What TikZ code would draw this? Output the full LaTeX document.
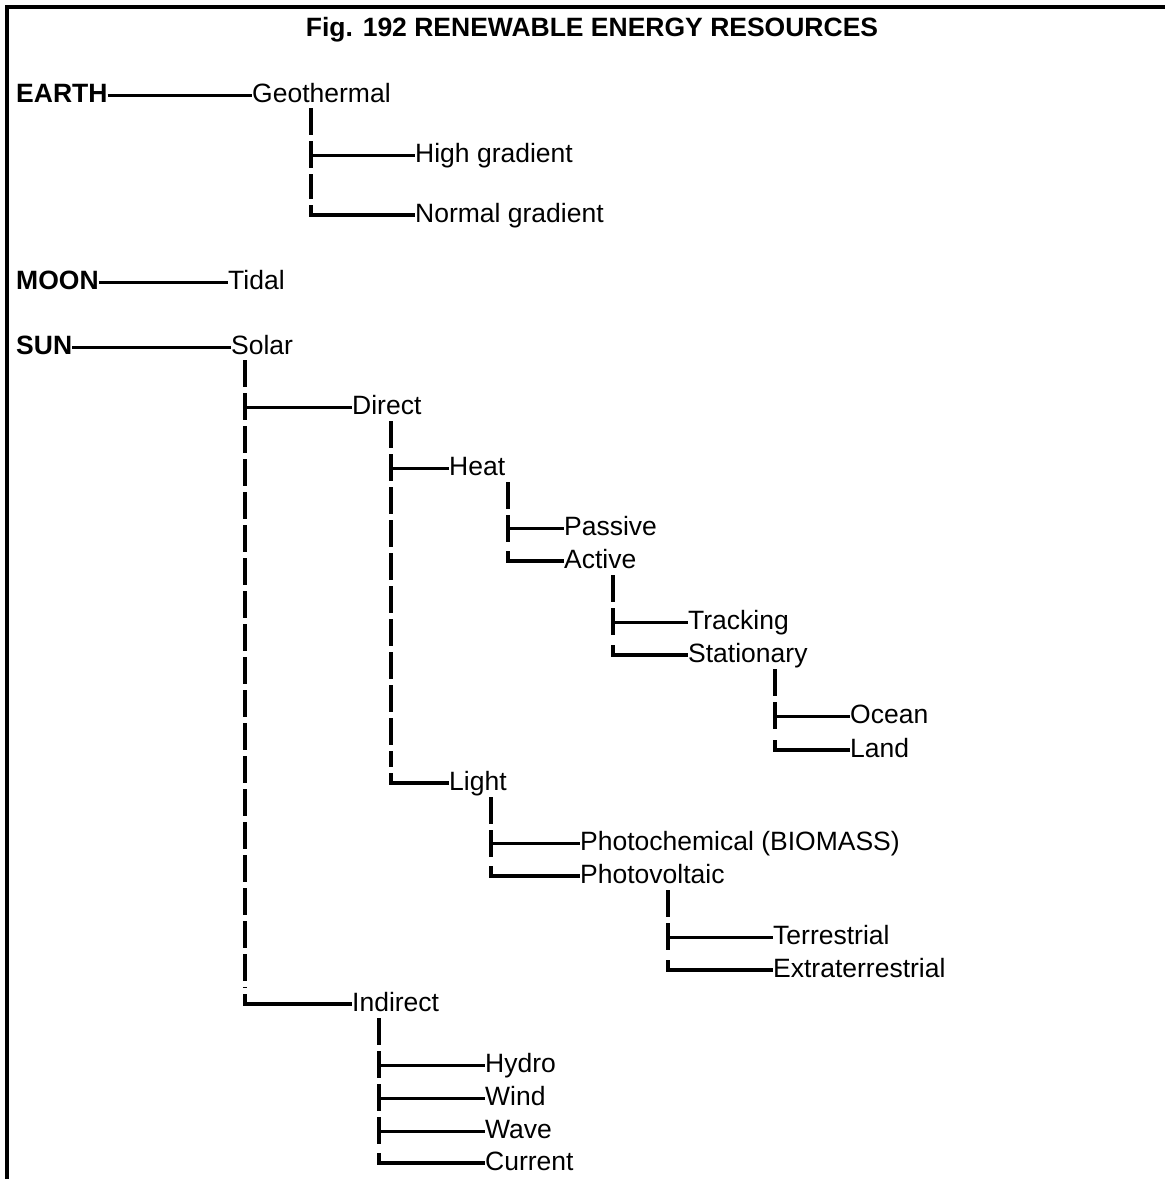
\documentclass[tikz,border=0pt]{standalone}
\usepackage{fontspec}
\setmainfont{Liberation Sans}
\usetikzlibrary{calc}

\begin{document}
\begin{tikzpicture}[
  x=1pt, y=-1pt,
  every node/.style={font=\fontsize{26.5}{30}\selectfont},
  lbl/.style={anchor=west, inner sep=0pt, text height=20pt, text depth=6pt},
  root/.style={lbl, font=\fontsize{26.5}{30}\selectfont\bfseries},
  title/.style={inner sep=0pt, font=\fontsize{26.5}{30}\selectfont\bfseries},
  branch/.style={line width=3pt},
  trunk/.style={line width=4pt, dash pattern=on 27pt off 6pt},
  elbow/.style={line width=3.5pt},
  frame/.style={line width=4pt}
]
\useasboundingbox (0,0) rectangle (1165,1179);
\draw[frame] (1165,7) -- (7,7) -- (7,1179);

\node[title] (ttl) at (592,30) {Fig. 192 RENEWABLE ENERGY RESOURCES};

% earth
\node[root] (earth) at (16,95) {EARTH};
\node[lbl] (geo) at (252,95) {Geothermal};
\node[lbl] (high) at (415,155) {High gradient};
\node[lbl] (normal) at (415,215) {Normal gradient};
\draw[branch] (earth.east) -- (geo.west);
\coordinate (geoT) at (311,108);
\draw[trunk] (geoT) -- ($(geoT |- normal.west)+(0,-16)$);
\draw[branch] (geoT |- high.west) -- (high.west);
\draw[elbow] ($(geoT |- normal.west)+(0,-10)$) |- (normal.west);

% moon
\node[root] (moon) at (16,282) {MOON};
\node[lbl] (tidal) at (228,282) {Tidal};
\draw[branch] (moon.east) -- (tidal.west);

% sun
\node[root] (sun) at (16,347) {SUN};
\node[lbl] (solar) at (231,347) {Solar};
\node[lbl] (direct) at (352,407) {Direct};
\node[lbl] (indirect) at (352,1004) {Indirect};
\draw[branch] (sun.east) -- (solar.west);
\coordinate (solarT) at (245,360);
\draw[trunk] (solarT) -- ($(solarT |- indirect.west)+(0,-16)$);
\draw[branch] (solarT |- direct.west) -- (direct.west);
\draw[elbow] ($(solarT |- indirect.west)+(0,-10)$) |- (indirect.west);

% direct
\node[lbl] (heat) at (449,468) {Heat};
\node[lbl] (light) at (449,783) {Light};
\coordinate (directT) at (391,421);
\draw[trunk] (directT) -- ($(directT |- light.west)+(0,-16)$);
\draw[branch] (directT |- heat.west) -- (heat.west);
\draw[elbow] ($(directT |- light.west)+(0,-10)$) |- (light.west);

% heat
\node[lbl] (passive) at (564,528) {Passive};
\node[lbl] (active) at (564,561) {Active};
\coordinate (heatT) at (508,482);
\draw[trunk] (heatT) -- ($(heatT |- active.west)+(0,-16)$);
\draw[branch] (heatT |- passive.west) -- (passive.west);
\draw[elbow] ($(heatT |- active.west)+(0,-10)$) |- (active.west);

% active
\node[lbl] (tracking) at (688,622) {Tracking};
\node[lbl] (stationary) at (688,655) {Stationary};
\coordinate (activeT) at (613,575);
\draw[trunk] (activeT) -- ($(activeT |- stationary.west)+(0,-16)$);
\draw[branch] (activeT |- tracking.west) -- (tracking.west);
\draw[elbow] ($(activeT |- stationary.west)+(0,-10)$) |- (stationary.west);

% stationary
\node[lbl] (ocean) at (850,716) {Ocean};
\node[lbl] (land) at (850,750) {Land};
\coordinate (stationaryT) at (775,669);
\draw[trunk] (stationaryT) -- ($(stationaryT |- land.west)+(0,-16)$);
\draw[branch] (stationaryT |- ocean.west) -- (ocean.west);
\draw[elbow] ($(stationaryT |- land.west)+(0,-10)$) |- (land.west);

% light
\node[lbl] (photochem) at (580,843) {Photochemical (BIOMASS)};
\node[lbl] (photovolt) at (580,876) {Photovoltaic};
\coordinate (lightT) at (491,797);
\draw[trunk] (lightT) -- ($(lightT |- photovolt.west)+(0,-16)$);
\draw[branch] (lightT |- photochem.west) -- (photochem.west);
\draw[elbow] ($(lightT |- photovolt.west)+(0,-10)$) |- (photovolt.west);

% photovoltaic
\node[lbl] (terr) at (773,937) {Terrestrial};
\node[lbl] (extra) at (773,970) {Extraterrestrial};
\coordinate (photovoltT) at (668,890);
\draw[trunk] (photovoltT) -- ($(photovoltT |- extra.west)+(0,-16)$);
\draw[branch] (photovoltT |- terr.west) -- (terr.west);
\draw[elbow] ($(photovoltT |- extra.west)+(0,-10)$) |- (extra.west);

% indirect
\node[lbl] (hydro) at (485,1065) {Hydro};
\node[lbl] (wind) at (485,1098) {Wind};
\node[lbl] (wave) at (485,1131) {Wave};
\node[lbl] (current) at (485,1163) {Current};
\coordinate (indirectT) at (379,1018);
\draw[trunk] (indirectT) -- ($(indirectT |- current.west)+(0,-16)$);
\foreach \n in {hydro,wind,wave}
  \draw[branch] (indirectT |- \n.west) -- (\n.west);
\draw[elbow] ($(indirectT |- current.west)+(0,-10)$) |- (current.west);
\end{tikzpicture}
\end{document}
